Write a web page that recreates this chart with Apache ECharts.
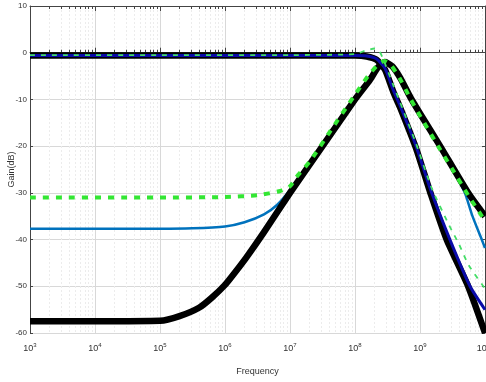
<!DOCTYPE html>
<html><head><meta charset="utf-8">
<script src="https://cdn.jsdelivr.net/npm/echarts@6/dist/echarts.min.js"></script>
<style>html,body{margin:0;padding:0;background:#fff}#c{width:486px;height:382px}</style>
</head><body><div id="c"></div>
<script>
// Frequency given as exponent of 10 (Hz), gain in dB
const decades = [3, 4, 5, 6, 7, 8, 9, 10];
const yTicks = [10, 0, -10, -20, -30, -40, -50, -60];

const bpBlackX = [3, 4, 5, 5.3, 5.6, 5.8, 6.0, 6.15, 6.33, 6.6, 7.0, 7.46, 8.0, 8.23, 8.35, 8.46, 8.58, 8.7, 8.85, 9.0, 9.31, 9.74, 10];
const bpBlackY = [-57.5, -57.5, -57.4, -56.4, -54.6, -52.4, -49.7, -47.1, -43.8, -38.4, -30, -20.8, -10, -5.8, -3.2, -2.0, -3.0, -5.5, -9.5, -13, -20, -30, -35];

const bpSteelX = [3, 5, 5.5, 6.0, 6.3, 6.6, 6.8, 7.0, 7.3, 7.6, 8.0, 8.23, 8.35, 8.46, 8.58, 8.7, 8.85, 9.0, 9.3, 9.5, 9.69, 9.8, 9.95, 10];
const bpSteelY = [-37.7, -37.7, -37.6, -37.2, -36.3, -34.6, -32.6, -29.4, -23.6, -17.8, -9.8, -5.6, -3.2, -2.2, -3.0, -5.5, -9.6, -13.2, -20, -24.8, -30, -34.7, -40, -41.8];

const bpGreenX = [3, 5, 6.0, 6.5, 6.85, 7.0, 7.1, 7.31, 7.6, 8.0, 8.2, 8.35, 8.45, 8.55, 8.7, 8.85, 9.0, 9.3, 9.5, 9.74, 10];
const bpGreenY = [-31, -31, -30.9, -30.5, -29.6, -28.6, -26.6, -23.2, -17.2, -9.0, -5.0, -2.6, -1.8, -2.6, -5.8, -9.8, -13.5, -20.5, -25, -30.5, -36];

const lpBlackX = [3, 5, 7, 8.0, 8.18, 8.33, 8.46, 8.59, 8.69, 8.94, 9.16, 9.41, 9.74, 10];
const lpBlackY = [-0.6, -0.6, -0.6, -0.6, -0.8, -1.5, -3.6, -8.4, -11.6, -20.5, -30, -40, -50, -60];

const lpBlueX = [3, 5, 7, 8.0, 8.18, 8.33, 8.46, 8.59, 8.69, 8.94, 9.18, 9.46, 9.77, 10];
const lpBlueY = [-0.6, -0.6, -0.6, -0.6, -0.7, -1.3, -3.3, -8, -11.2, -20, -30, -40, -50, -55];

const lpGreenX = [3, 5, 7, 8.0, 8.15, 8.3, 8.38, 8.46, 8.59, 8.69, 8.94, 9.18, 9.45, 9.6, 9.75, 10];
const lpGreenY = [-0.5, -0.5, -0.5, -0.3, 0.4, 0.9, 0.2, -2.3, -7, -10.5, -19.5, -29, -37, -41, -45.5, -50.5];

const pairs = (xs, ys) => xs.map((x, i) => [x, ys[i]]);
const minorPos = [];
for (let d = 3; d < 10; d++) for (let k = 2; k <= 9; k++) minorPos.push(d + Math.log10(k));

const axisCol = '#444';
const base = {type: 'value', min: 3, max: 10, interval: 1};
const chart = echarts.init(document.getElementById('c'), null, {renderer: 'canvas'});
const lineS = (name, data, color, width, dash, z) => ({
  name, type: 'line', data, xAxisIndex: 0, yAxisIndex: 0, showSymbol: false, symbol: 'none',
  smooth: 0.2, z,
  lineStyle: {color, width, type: dash || 'solid', cap: 'butt', join: 'round'}
});
chart.setOption({
  animation: false,
  grid: {left: 30, right: 1, top: 6, bottom: 49, containLabel: false, outerBoundsMode: 'none'},
  xAxis: [
    Object.assign({}, base, {
      position: 'bottom', name: 'Frequency', nameLocation: 'middle', nameGap: 34, nameMoveOverlap: false,
      nameTextStyle: {fontSize: 9, color: '#333', fontFamily: 'Liberation Sans'},
      axisLine: {show: true, lineStyle: {color: axisCol, width: 1}},
      axisTick: {show: true, inside: true, length: 5, lineStyle: {color: axisCol}},
      splitLine: {show: true, lineStyle: {color: '#d8d8d8', width: 1}},
      axisLabel: {
        margin: 9, color: '#333', fontFamily: 'Liberation Sans', fontSize: 9,
        formatter: v => '10{s|' + Math.round(v) + '}',
        rich: {s: {fontSize: 6, padding: [0, 0, 7, 0], color: '#333', fontFamily: 'Liberation Sans'}}
      }
    }),
    Object.assign({}, base, {
      position: 'bottom',
      axisLine: {show: false},
      axisTick: {show: true, inside: true, length: 3, customValues: minorPos, lineStyle: {color: axisCol}},
      splitLine: {show: true, lineStyle: {color: '#ececec', width: 1, type: [2, 2]}},
      axisLabel: {show: false}
    }),
    Object.assign({}, base, {
      position: 'top',
      axisLine: {show: true, lineStyle: {color: axisCol, width: 1}},
      axisTick: {show: true, inside: true, length: 5, lineStyle: {color: axisCol}},
      splitLine: {show: false}, axisLabel: {show: false}
    }),
    Object.assign({}, base, {
      position: 'top',
      axisLine: {show: false},
      axisTick: {show: true, inside: true, length: 3, customValues: minorPos, lineStyle: {color: axisCol}},
      splitLine: {show: false}, axisLabel: {show: false}
    })
  ],
  yAxis: [
    {
      type: 'value', min: -60, max: 10, interval: 10, position: 'left',
      name: 'Gain(dB)', nameLocation: 'middle', nameGap: 14, nameRotate: 90, nameMoveOverlap: false,
      nameTextStyle: {fontSize: 9, color: '#333', fontFamily: 'Liberation Sans'},
      axisLine: {show: true, lineStyle: {color: axisCol, width: 1}},
      axisTick: {show: true, inside: true, length: 3, lineStyle: {color: axisCol}},
      splitLine: {show: true, lineStyle: {color: '#d8d8d8', width: 1}},
      axisLabel: {margin: 3, fontSize: 8, color: '#333', fontFamily: 'Liberation Sans'}
    },
    {
      type: 'value', min: -60, max: 10, interval: 10, position: 'right',
      axisLine: {show: true, lineStyle: {color: axisCol, width: 1}},
      axisTick: {show: true, inside: true, length: 3, lineStyle: {color: axisCol}},
      splitLine: {show: false}, axisLabel: {show: false}
    }
  ],
  series: [
    lineS('BP steel', pairs(bpSteelX, bpSteelY), '#0072BD', 2.5, null, 2),
    lineS('BP black', pairs(bpBlackX, bpBlackY), '#000000', 6.5, null, 3),
    lineS('LP black', pairs(lpBlackX, lpBlackY), '#000000', 6.5, null, 4),
    lineS('LP blue', pairs(lpBlueX, lpBlueY), '#0a0aa8', 3, null, 5),
    lineS('BP green', pairs(bpGreenX, bpGreenY), '#33e633', 4, [6, 7], 6),
    lineS('LP green', pairs(lpGreenX, lpGreenY), '#44dd66', 1.8, [5, 6], 7)
  ]
});
</script></body></html>
